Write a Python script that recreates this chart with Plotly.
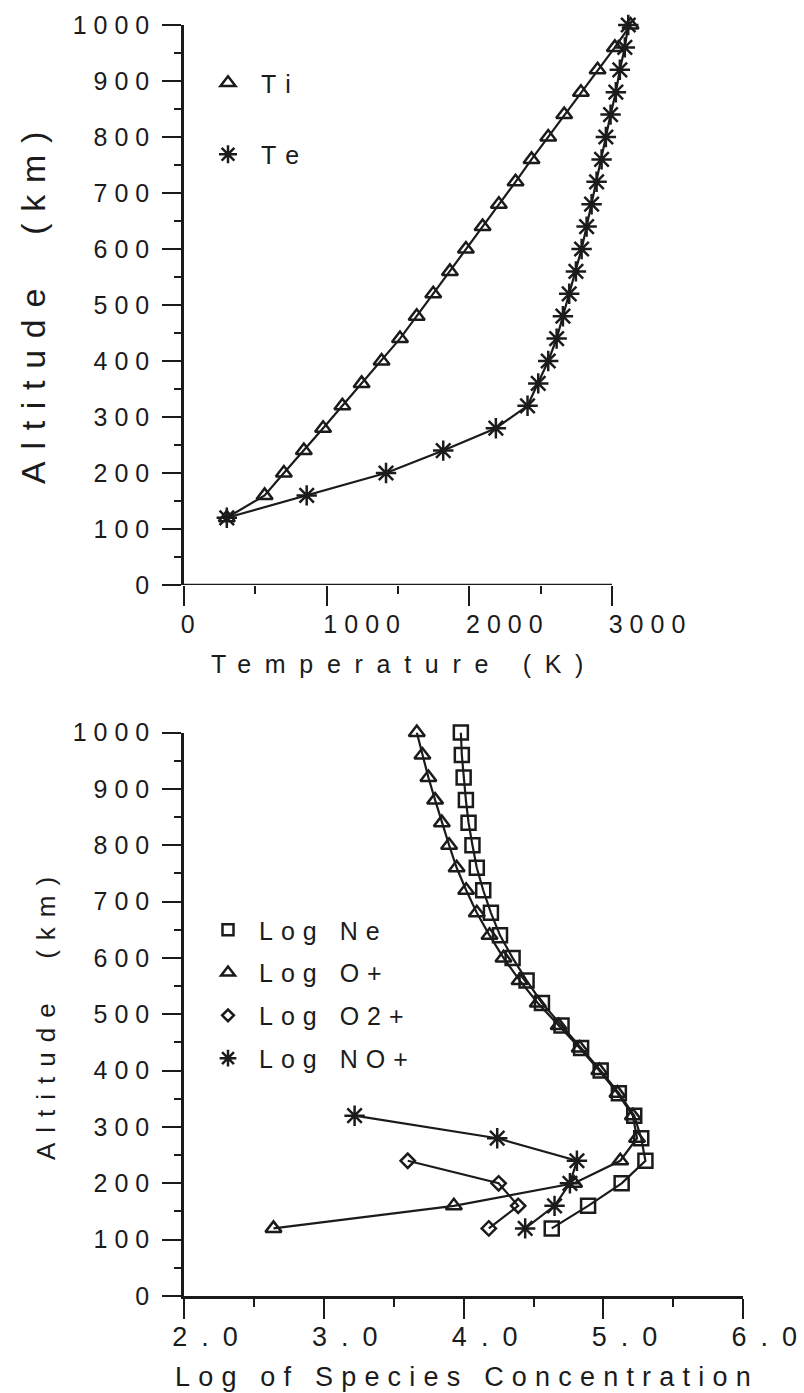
import plotly.graph_objects as go

W, H = 804, 1393

# ---------------- temperature profiles ----------------
temp_alt = [120, 160, 200, 240, 280, 320, 360, 400, 440, 480, 520, 560,
            600, 640, 680, 720, 760, 800, 840, 880, 920, 960, 1000]
ti_K = [300, 565, 700, 840, 975, 1110, 1245, 1385, 1514, 1631, 1747, 1864,
        1976, 2093, 2207, 2324, 2436, 2553, 2665, 2782, 2899, 3020, 3130]
te_K = [300, 860, 1416, 1817, 2186, 2408, 2483, 2553, 2612, 2656, 2700, 2747,
        2787, 2822, 2857, 2892, 2927, 2957, 2990, 3027, 3055, 3090, 3114]

# ---------------- ion composition ----------------
ion_alt = temp_alt
log_ne = [4.63, 4.89, 5.13, 5.30, 5.27, 5.22, 5.11, 4.98, 4.84, 4.70, 4.56, 4.45,
          4.35, 4.26, 4.195, 4.14, 4.094, 4.063, 4.035, 4.016, 4.00, 3.987, 3.98]
log_op = [2.64, 3.93, 4.79, 5.12, 5.24, 5.21, 5.10, 4.97, 4.83, 4.68, 4.53, 4.40,
          4.285, 4.185, 4.094, 4.018, 3.95, 3.896, 3.844, 3.796, 3.748, 3.705, 3.665]
o2p_alt = [120, 160, 200, 240]
log_o2p = [4.18, 4.39, 4.25, 3.60]
nop_alt = [120, 160, 200, 240, 280, 320]
log_nop = [4.44, 4.65, 4.76, 4.81, 4.24, 3.22]

# ---------------- ticks ----------------
alt_ticks = [0, 100, 200, 300, 400, 500, 600, 700, 800, 900, 1000]
alt_minor = [50, 150, 250, 350, 450, 550, 650, 750, 850, 950]
alt_ticktext = ["0", "100", "200", "300", "400", "500", "600", "700", "800", "900", "1000"]
temp_ticks = [0, 1000, 2000, 3000]
temp_minor = [500, 1500, 2500]
temp_ticktext = ["0", "1000", "2000", "3000"]
conc_ticks = [2, 3, 4, 5, 6]
conc_minor = [2.5, 3.5, 4.5, 5.5]
conc_ticktext = ["2.0", "3.0", "4.0", "5.0", "6.0"]

INK = "#1b1b1b"
FONT = "Liberation Sans"


def spaced(text, px):
    # letter-spaced text; the last glyph stays outside the span so no
    # trailing gap is added after it
    text = text.replace(" ", "\u00a0")
    if len(text) < 2:
        return text
    return f'<span style="letter-spacing:{px}px">{text[:-1]}</span>{text[-1]}'


def pad(text, width):
    # figure spaces keep every label the same width so they share one shift
    return text + "\u2007" * (width - len(text))


def fx(p):
    return p / W


def fy(p):
    return 1 - p / H


fig = go.Figure()

line_style = dict(color=INK, width=2.2)


def mk(symbol, size):
    return dict(symbol=symbol, size=size, color=INK, line=dict(color=INK, width=2.5))


# top panel
fig.add_trace(go.Scatter(x=ti_K, y=temp_alt, mode="lines+markers", line=line_style,
                         marker=mk("triangle-up-open", 14), cliponaxis=False,
                         showlegend=False, xaxis="x", yaxis="y"))
fig.add_trace(go.Scatter(x=te_K, y=temp_alt, mode="lines+markers", line=line_style,
                         marker=mk("asterisk-open", 17), cliponaxis=False,
                         showlegend=False, xaxis="x", yaxis="y"))

# bottom panel
for xs, ys, sym, sz in [(log_ne, ion_alt, "square-open", 14),
                        (log_op, ion_alt, "triangle-up-open", 14),
                        (log_o2p, o2p_alt, "diamond-open", 11),
                        (log_nop, nop_alt, "asterisk-open", 17)]:
    fig.add_trace(go.Scatter(x=xs, y=ys, mode="lines+markers", line=line_style,
                             marker=mk(sym, sz), cliponaxis=False,
                             showlegend=False, xaxis="x2", yaxis="y2"))

# legend entries (marker only)
for name, sym, sz in [("Ti", "triangle-up-open", 13), ("Te", "asterisk-open", 15)]:
    fig.add_trace(go.Scatter(x=[None], y=[None], mode="markers", marker=mk(sym, sz),
                             name=spaced(name, 9), legend="legend", legendgroup=name,
                             xaxis="x", yaxis="y"))
for name, sym, sz in [("Log Ne", "square-open", 11), ("Log O+", "triangle-up-open", 12),
                      ("Log O2+", "diamond-open", 9), ("Log NO+", "asterisk-open", 14)]:
    fig.add_trace(go.Scatter(x=[None], y=[None], mode="markers", marker=mk(sym, sz),
                             name=spaced(name, 8), legend="legend2",
                             legendgroup=name, xaxis="x2", yaxis="y2"))

tick_common = dict(ticks="outside", tickcolor=INK, tickwidth=2.3, showgrid=False,
                   zeroline=False, automargin=False, ticklabeloverflow="allow")

top_x_px = (184, 184 + 3200 * 428 / 3000)

fig.update_layout(
    width=W, height=H, margin=dict(l=0, r=0, t=0, b=0, autoexpand=False),
    paper_bgcolor="white", plot_bgcolor="white",
    font=dict(family=FONT, color=INK),
    xaxis=dict(domain=[fx(top_x_px[0]), fx(top_x_px[1])], range=[0, 3200], anchor="y",
               showline=False, tickmode="array", tickvals=temp_ticks,
               ticktext=[spaced(pad(t, 4), 7) for t in temp_ticktext],
               ticklen=20, ticklabelshift=35, ticklabelstandoff=-3,
               tickfont=dict(size=25, family=FONT, color=INK),
               minor=dict(ticks="outside", tickmode="array", tickvals=temp_minor,
                          ticklen=8, tickwidth=2.3, tickcolor=INK),
               **tick_common),
    yaxis=dict(domain=[fy(585), fy(25)], range=[0, 1000], anchor="x",
               showline=True, linecolor=INK, linewidth=2.5,
               tickmode="array", tickvals=alt_ticks,
               ticktext=[spaced(t, 7) for t in alt_ticktext],
               ticklen=19, ticklabelstandoff=8,
               tickfont=dict(size=25, family=FONT, color=INK),
               minor=dict(ticks="outside", tickmode="array", tickvals=alt_minor,
                          ticklen=7, tickwidth=2.3, tickcolor=INK),
               **tick_common),
    xaxis2=dict(domain=[fx(184), fx(743.3)], range=[2, 6], anchor="y2",
                showline=True, linecolor=INK, linewidth=2.5,
                tickmode="array", tickvals=conc_ticks,
                ticktext=[spaced(t, 14) for t in conc_ticktext],
                ticklen=20, ticklabelshift=21, ticklabelstandoff=-5,
                tickfont=dict(size=27, family=FONT, color=INK),
                minor=dict(ticks="outside", tickmode="array", tickvals=conc_minor,
                           ticklen=8, tickwidth=2.3, tickcolor=INK),
                **tick_common),
    yaxis2=dict(domain=[fy(1296), fy(732.5)], range=[0, 1000], anchor="x2",
                showline=True, linecolor=INK, linewidth=2.5,
                tickmode="array", tickvals=alt_ticks,
                ticktext=[spaced(t, 7) for t in alt_ticktext],
                ticklen=19, ticklabelstandoff=8,
                tickfont=dict(size=25, family=FONT, color=INK),
                minor=dict(ticks="outside", tickmode="array", tickvals=alt_minor,
                           ticklen=7, tickwidth=2.3, tickcolor=INK),
                **tick_common),
    legend=dict(x=fx(195), y=fy(60), xanchor="left", yanchor="top",
                font=dict(size=25, family=FONT, color=INK), itemwidth=56,
                tracegroupgap=36, bgcolor="rgba(0,0,0,0)", borderwidth=0),
    legend2=dict(x=fx(197), y=fy(907), xanchor="left", yanchor="top",
                 font=dict(size=25, family=FONT, color=INK), itemwidth=52,
                 tracegroupgap=7.3, bgcolor="rgba(0,0,0,0)", borderwidth=0),
    showlegend=True,
)

# x-axis baseline of the temperature panel, limited to the labelled span
fig.add_shape(type="line", xref="x", yref="y", x0=temp_ticks[0], x1=temp_ticks[-1],
              y0=alt_ticks[0], y1=alt_ticks[0], line=dict(color=INK, width=2.5))

# axis titles
titles = [
    (spaced("Temperature (K)", 13.7), 397, 664, 25, 0),
    (spaced("Altitude  (km)", 11.7), 33, 308, 34, -90),
    (spaced("Log of Species Concentration", 8.2), 463, 1377, 27, 0),
    (spaced("Altitude  (km)", 10), 46, 1019, 26, -90),
]
for text, px, py, size, ang in titles:
    fig.add_annotation(text=text, xref="paper", yref="paper", x=fx(px), y=fy(py),
                       xanchor="center", yanchor="middle", showarrow=False,
                       textangle=ang, font=dict(size=size, family=FONT, color=INK))

fig.write_html("out.html")
